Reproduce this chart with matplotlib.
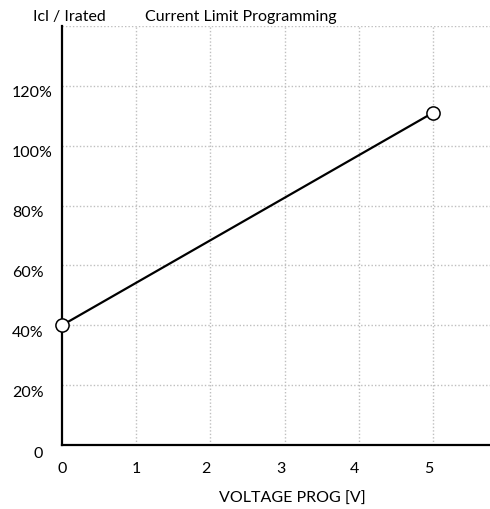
import matplotlib
matplotlib.use("Agg")
import matplotlib.pyplot as plt
import matplotlib.transforms as mtransforms

# Data
x_values = [0, 5]
y_values = [0.40, 1.11]
x_ticks = [0, 1, 2, 3, 4, 5]
x_tick_labels = ["0", "1", "2", "3", "4", "5"]
y_ticks = [0, 0.2, 0.4, 0.6, 0.8, 1.0, 1.2]
y_tick_labels = ["0", "20%", "40%", "60%", "80%", "100%", "120%"]
grid_y = [0.2, 0.4, 0.6, 0.8, 1.0, 1.2, 1.4]

plt.rcParams['font.family'] = ['Lato', 'DejaVu Sans']

DPI = 100
FS = 11.5
fig = plt.figure(figsize=(4.90, 5.09), dpi=DPI)
ax = fig.add_axes([62/490, 64/509, 1 - 62/490, (445-26)/509])

ax.set_xlim(0, 5.77)
ax.set_ylim(0, 1.4)

# grid
for gy in grid_y:
    ax.axhline(gy, color="#bfbfbf", lw=1.0, ls=(0, (1, 1.5)), zorder=1)
for gx in x_ticks[1:]:
    ax.axvline(gx, color="#bfbfbf", lw=1.0, ls=(0, (1, 1.5)), zorder=1)

ax.plot(x_values, y_values, color="black", lw=1.6, zorder=3,
        marker="o", markersize=9.5, markerfacecolor="white",
        markeredgecolor="black", markeredgewidth=1.1, clip_on=False)

for s in ["top", "right"]:
    ax.spines[s].set_visible(False)
for s in ["left", "bottom"]:
    ax.spines[s].set_linewidth(1.6)
    ax.spines[s].set_color("black")

ax.set_xticks(x_ticks, x_tick_labels)
ax.set_yticks(y_ticks, y_tick_labels)
ax.tick_params(axis="both", length=0, labelsize=FS, colors="black")
ax.tick_params(axis="x", pad=12)
ax.tick_params(axis="y", pad=50 * 72 / DPI)

for lab in ax.get_yticklabels():
    lab.set_horizontalalignment("left")
    if lab.get_text() == "0":
        dx, dy = 22/DPI, -7/DPI
    else:
        dx, dy = 0, -6/DPI
    lab.set_transform(lab.get_transform() +
                      mtransforms.ScaledTranslation(dx, dy, fig.dpi_scale_trans))
for lab in ax.get_xticklabels():
    if lab.get_text() not in ("0", "1"):
        lab.set_transform(lab.get_transform() +
                          mtransforms.ScaledTranslation(-4/DPI, 0, fig.dpi_scale_trans))

ax.set_xlabel("VOLTAGE PROG [V]", fontsize=FS)
ax.xaxis.set_label_coords((292-62)/428, -(499-445)/419, transform=ax.transAxes)
ax.xaxis.label.set_verticalalignment("center")

fig.text(69/490, 1 - 17/509, "Icl / Irated", ha="center", va="center", fontsize=FS)
fig.text(145/490, 1 - 17/509, "Current Limit Programming", ha="left", va="center", fontsize=FS)

fig.savefig("out.png", dpi=DPI)
